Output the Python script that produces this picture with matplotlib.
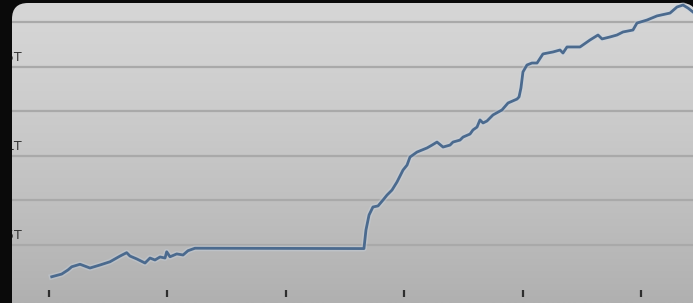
import numpy as np
import matplotlib
matplotlib.use("Agg")
import matplotlib.pyplot as plt
from matplotlib.patches import FancyBboxPatch, Rectangle

# series values (x in tick units, y in trillions)
x_vals = [0.023, 0.107, 0.160, 0.192, 0.262, 0.346, 0.431, 0.515, 0.600, 0.656,
          0.684, 0.741, 0.811, 0.853, 0.895, 0.938, 0.980, 0.994, 1.022, 1.079,
          1.132, 1.174, 1.233, 2.660, 2.677, 2.703, 2.736, 2.779, 2.821, 2.855,
          2.897, 2.939, 2.965, 2.990, 3.024, 3.049, 3.108, 3.193, 3.235, 3.277,
          3.328, 3.387, 3.412, 3.471, 3.497, 3.556, 3.581, 3.615, 3.640, 3.666,
          3.699, 3.750, 3.826, 3.877, 3.953, 3.970, 3.986, 4.003, 4.037, 4.079,
          4.122, 4.172, 4.257, 4.316, 4.341, 4.375, 4.485, 4.569, 4.637, 4.671,
          4.738, 4.797, 4.848, 4.932, 4.966, 5.051, 5.135, 5.245, 5.304, 5.355,
          5.397, 5.439]
y_vals = [0.322, 0.337, 0.360, 0.378, 0.392, 0.371, 0.388, 0.406, 0.438, 0.457,
          0.438, 0.422, 0.399, 0.427, 0.416, 0.433, 0.427, 0.462, 0.434, 0.450,
          0.444, 0.468, 0.482, 0.480, 0.584, 0.668, 0.713, 0.719, 0.752, 0.780,
          0.808, 0.853, 0.887, 0.920, 0.948, 0.993, 1.021, 1.044, 1.060, 1.077,
          1.049, 1.060, 1.077, 1.088, 1.105, 1.122, 1.145, 1.161, 1.201, 1.184,
          1.195, 1.229, 1.257, 1.296, 1.318, 1.330, 1.380, 1.470, 1.509, 1.520,
          1.520, 1.571, 1.582, 1.593, 1.576, 1.610, 1.610, 1.649, 1.677, 1.655,
          1.666, 1.677, 1.694, 1.705, 1.744, 1.761, 1.784, 1.800, 1.834, 1.845,
          1.828, 1.806]

x_ticks = [0, 1, 2, 3, 4, 5]
grid_vals = [0.5, 0.75, 1.0, 1.25, 1.5, 1.75]
label_vals = [1.5, 1.0, 0.5]
label_text = ["1.5T", "1T", "0.5T"]

W, H = 693, 303
fig = plt.figure(figsize=(W / 100, H / 100), dpi=100)
fig.patch.set_facecolor("#0a0a0a")

# background panel with rounded corners and a soft vertical gradient
bg = fig.add_axes([0, 0, 1, 1])
bg.set_xlim(0, W)
bg.set_ylim(H, 0)
bg.axis("off")
grad = np.linspace(0, 1, 256).reshape(-1, 1)
top = np.array([214, 214, 214]) / 255
bot = np.array([176, 176, 176]) / 255
img = top + (bot - top) * grad[..., None] ** 1.3
im = bg.imshow(img, extent=[0, W, H, 0], aspect="auto", zorder=0)
panel = FancyBboxPatch((12, 3), 685, 340, boxstyle="round,pad=0,rounding_size=16",
                       facecolor="none", edgecolor="none")
bg.add_patch(panel)
im.set_clip_path(panel)

# main axes
ax = fig.add_axes([0, 13 / H, 1, 290 / H])
ax.set_facecolor("none")
ax.set_xlim(-49 / 118.4, (W - 49) / 118.4)
ax.set_ylim(0.5 - 45 * 0.005605, 0.5 + 245 * 0.005605)
for s in ax.spines.values():
    s.set_visible(False)

ax.set_yticks(grid_vals)
ax.set_yticklabels([])
ax.tick_params(axis="y", length=0)
ax.grid(axis="y", color="#a9a9a9", linewidth=1.6)
ax.set_axisbelow(True)

ax.set_xticks(x_ticks)
ax.set_xticklabels([])
ax.tick_params(axis="x", direction="out", length=5, width=1.6, color="#2e2e2e")

ax.plot(x_vals, y_vals, color="#c9d6e6", linewidth=4.2, alpha=0.35,
        solid_joinstyle="round", zorder=2)
ax.plot(x_vals, y_vals, color="#4b6a8e", linewidth=2.0,
        solid_joinstyle="round", zorder=3)

for v, t in zip(label_vals, label_text):
    ax.text(22 / W, v + 0.015, t, transform=ax.get_yaxis_transform(),
            ha="right", va="bottom", fontsize=9, color="#333333")

# dark bezel on the left edge covers the start of the labels
fig.patches.append(Rectangle((0, 0), 12 / W, 1, transform=fig.transFigure,
                             facecolor="#0a0a0a", edgecolor="none", zorder=5))

fig.savefig("out.png", dpi=100, facecolor=fig.get_facecolor())
